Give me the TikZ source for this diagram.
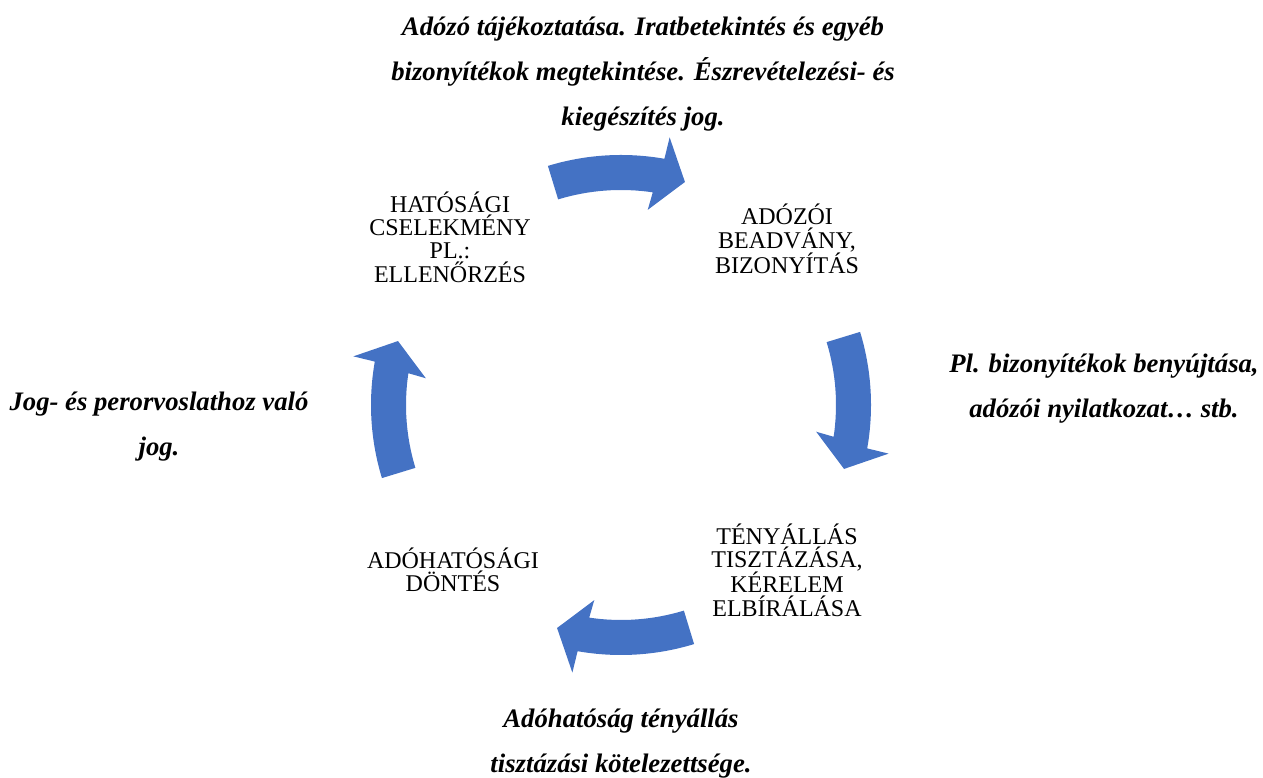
\documentclass[tikz,border=0pt]{standalone}
\usepackage{fontspec}
\setmainfont{Liberation Serif}
\definecolor{cycleblue}{HTML}{4472C4}
\begin{document}
\begin{tikzpicture}[x=1pt,y=1pt,
  stage/.style={align=center, font=\fontsize{24}{23.3}\selectfont, inner sep=0pt},
  note/.style={align=center, font=\fontsize{26.7}{45}\selectfont\bfseries\itshape, inner sep=0pt},
  cyclearrow/.style={fill=cycleblue, draw=none}]
\useasboundingbox (0,0) rectangle (1263,778);
\coordinate (c) at (621,373);

% four curved block arrows running clockwise round the centre
\begin{scope}[shift={(c)}]
\foreach \a in {90,0,-90,180} {
  \fill[cyclearrow] (\a+17:250) arc[start angle=\a+17, end angle=\a-10, radius=250]
    -- (\a-10.3:272) -- (\a-16:232) -- (\a-7.8:197) -- (\a-8.5:215)
    arc[start angle=\a-8.5, end angle=\a+17, radius=215] -- cycle;
}
\end{scope}

% stages of the procedure
\node[stage] (act)  at (450,541) {HATÓSÁGI\\CSELEKMÉNY\\PL.:\\ELLENŐRZÉS};
\node[stage] (sub)  at (787,539) {ADÓZÓI\\BEADVÁNY,\\BIZONYÍTÁS};
\node[stage] (fact) at (787,208) {TÉNYÁLLÁS\\TISZTÁZÁSA,\\KÉRELEM\\ELBÍRÁLÁSA};
\node[stage] (dec)  at (453,208) {ADÓHATÓSÁGI\\DÖNTÉS};

% rights attached to each step
\node[note] (n1) at (643,704) {Adózó tájékoztatása. Iratbetekintés és egyéb\\bizonyítékok megtekintése. Észrevételezési- és\\kiegészítés jog.};
\node[note] (n2) at (1104,389) {Pl. bizonyítékok benyújtása,\\adózói nyilatkozat… stb.};
\node[note] (n3) at (159,351) {Jog- és perorvoslathoz való\\jog.};
\node[note] (n4) at (621,34) {Adóhatóság tényállás\\tisztázási kötelezettsége.};
\end{tikzpicture}
\end{document}
